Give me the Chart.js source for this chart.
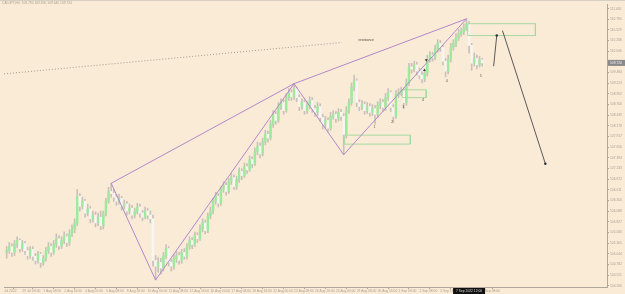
<!DOCTYPE html>
<html>
<head>
<meta charset="utf-8">
<script src="https://cdn.jsdelivr.net/npm/chart.js@4.4.0/dist/chart.umd.min.js"></script>
<style>
  html, body { margin: 0; padding: 0; background: #faebd7; }
  #wrap { width: 625px; height: 294px; position: relative; }
</style>
</head>
<body>
<div id="wrap"><canvas id="chart"></canvas></div>
<script>
// CADJPY H4 candles, bar index on x
const opens = [
  105.08,105.12,105.22,105.08,105.27,105.37,105.17,105.29,105.12,105.00,
  105.15,104.98,104.88,105.03,104.83,104.93,105.12,105.22,105.08,105.27,
  105.41,105.24,105.37,105.46,105.32,105.53,105.65,105.80,106.45,106.21,
  106.33,106.04,106.14,105.90,105.99,105.80,105.94,105.73,106.02,106.33,
  106.57,106.52,106.43,106.33,106.40,106.21,106.26,106.09,106.16,105.99,
  106.07,106.19,106.04,105.94,106.09,105.99,105.90,104.88,104.74,104.83,
  104.69,105.00,105.17,104.83,104.74,104.93,105.00,104.88,105.08,104.98,
  105.22,105.37,105.27,105.49,105.41,105.65,105.80,105.61,105.97,106.09,
  106.33,106.45,106.28,106.62,106.72,106.57,106.81,106.91,106.69,106.86,
  107.06,106.96,107.18,107.10,107.35,107.25,107.54,107.68,107.49,107.78,
  107.97,107.88,108.22,108.46,108.31,108.65,108.75,108.55,108.87,108.99,
  108.89,109.09,108.87,108.65,108.75,108.55,108.68,108.80,108.60,108.51,
  108.65,108.38,108.22,108.31,108.12,108.41,108.46,108.36,108.51,108.41,
  107.97,108.55,108.75,109.13,109.28,108.75,108.65,108.70,108.55,108.65,
  108.51,108.60,108.46,108.68,108.75,108.63,108.87,108.99,108.63,108.41,
  108.94,108.99,109.04,108.75,109.23,109.62,109.57,109.67,109.52,109.42,
  109.33,109.47,109.81,109.91,109.86,110.05,110.20,110.10,109.76,109.52,
  109.81,110.10,110.20,110.34,110.44,110.49,110.58,110.68,110.15,109.71,
  109.83,109.67,109.79
];
const highs = [
  105.22,105.32,105.29,105.37,105.46,105.41,105.37,105.34,105.20,105.22,
  105.22,105.05,105.10,105.08,105.00,105.20,105.32,105.29,105.37,105.53,
  105.49,105.46,105.58,105.53,105.63,105.75,105.90,106.62,106.52,106.43,
  106.38,106.26,106.21,106.09,106.07,106.04,106.09,106.09,106.40,106.67,
  106.77,106.62,106.50,106.50,106.45,106.36,106.33,106.26,106.23,106.16,
  106.28,106.26,106.11,106.19,106.16,106.09,105.99,105.00,104.95,104.93,
  105.08,105.27,105.22,104.91,105.03,105.10,105.08,105.15,105.17,105.29,
  105.46,105.44,105.58,105.56,105.75,105.90,105.87,106.04,106.19,106.40,
  106.55,106.52,106.69,106.81,106.79,106.89,107.01,106.98,106.94,107.15,
  107.13,107.27,107.25,107.44,107.42,107.64,107.78,107.76,107.88,108.07,
  108.05,108.31,108.55,108.53,108.75,108.84,108.82,108.97,109.09,109.06,
  109.21,109.13,108.94,108.84,108.82,108.77,108.89,108.87,108.68,108.75,
  108.72,108.46,108.41,108.38,108.51,108.55,108.53,108.60,108.58,108.48,
  108.65,108.84,109.23,109.42,109.33,108.82,108.80,108.77,108.75,108.72,
  108.70,108.68,108.77,108.84,108.82,108.97,109.09,109.04,108.70,109.04,
  109.09,109.13,109.11,109.33,109.71,109.71,109.76,109.74,109.59,109.50,
  109.57,109.91,110.00,109.98,110.15,110.29,110.27,110.15,109.83,109.91,
  110.20,110.29,110.44,110.54,110.58,110.68,110.80,110.73,110.20,109.96,
  109.91,109.88,109.83
];
const lows = [
  104.93,105.05,104.98,105.00,105.20,105.08,105.10,105.03,104.91,104.93,
  104.88,104.79,104.81,104.71,104.76,104.86,105.05,104.98,105.03,105.20,
  105.15,105.17,105.29,105.22,105.24,105.46,105.56,105.73,106.09,106.14,
  105.94,105.97,105.80,105.82,105.70,105.73,105.63,105.65,105.97,106.28,
  106.43,106.33,106.23,106.26,106.11,106.14,105.99,106.02,105.90,105.92,
  106.02,105.94,105.85,105.90,105.90,105.80,104.74,104.40,104.59,104.54,
  104.62,104.93,104.74,104.62,104.66,104.83,104.79,104.81,104.91,104.91,
  105.15,105.17,105.22,105.32,105.37,105.58,105.53,105.56,105.90,106.02,
  106.26,106.19,106.23,106.55,106.48,106.52,106.74,106.62,106.62,106.79,
  106.86,106.91,107.01,107.06,107.15,107.20,107.47,107.39,107.44,107.71,
  107.78,107.83,108.14,108.22,108.26,108.58,108.46,108.51,108.80,108.80,
  108.82,108.77,108.55,108.58,108.46,108.48,108.60,108.51,108.41,108.43,
  108.29,108.10,108.12,108.02,108.07,108.34,108.26,108.29,108.31,107.47,
  107.88,108.48,108.68,109.04,108.65,108.55,108.58,108.46,108.48,108.41,
  108.43,108.22,108.38,108.60,108.53,108.55,108.80,108.53,108.26,108.36,
  108.87,108.92,108.60,108.68,109.16,109.47,109.50,109.42,109.33,109.23,
  109.26,109.40,109.74,109.76,109.79,109.98,110.00,109.67,109.38,109.45,
  109.74,110.03,110.12,110.27,110.37,110.41,110.51,109.96,109.54,109.64,
  109.57,109.62,109.64
];
const closes = [
  105.12,105.22,105.08,105.27,105.37,105.17,105.29,105.12,105.00,105.15,
  104.98,104.88,105.03,104.83,104.93,105.12,105.22,105.08,105.27,105.41,
  105.24,105.37,105.46,105.32,105.53,105.65,105.80,106.45,106.21,106.33,
  106.04,106.14,105.90,105.99,105.80,105.94,105.73,106.02,106.33,106.57,
  106.52,106.43,106.33,106.40,106.21,106.26,106.09,106.16,105.99,106.07,
  106.19,106.04,105.94,106.09,105.99,105.90,104.88,104.74,104.83,104.69,
  105.00,105.17,104.83,104.74,104.93,105.00,104.88,105.08,104.98,105.22,
  105.37,105.27,105.49,105.41,105.65,105.80,105.61,105.97,106.09,106.33,
  106.45,106.28,106.62,106.72,106.57,106.81,106.91,106.69,106.86,107.06,
  106.96,107.18,107.10,107.35,107.25,107.54,107.68,107.49,107.78,107.97,
  107.88,108.22,108.46,108.31,108.65,108.75,108.55,108.87,108.99,108.89,
  109.09,108.87,108.65,108.75,108.55,108.68,108.80,108.60,108.51,108.65,
  108.38,108.22,108.31,108.12,108.41,108.46,108.36,108.51,108.41,107.97,
  108.55,108.75,109.13,109.28,108.75,108.65,108.70,108.55,108.65,108.51,
  108.60,108.46,108.68,108.75,108.63,108.87,108.99,108.63,108.41,108.94,
  108.99,109.04,108.75,109.23,109.62,109.57,109.67,109.52,109.42,109.33,
  109.47,109.81,109.91,109.86,110.05,110.20,110.10,109.76,109.52,109.81,
  110.10,110.20,110.34,110.44,110.49,110.58,110.68,110.15,109.71,109.83,
  109.67,109.79,109.72
];

// axis labels
const priceTicks = [111.050,110.790,110.529,110.268,110.006,109.745,109.484,109.223,108.962,
  108.700,108.439,108.178,107.917,107.656,107.394,107.133,106.872,106.611,106.350,106.088,
  105.827,105.566,105.305,105.044,104.782,104.521,104.260];
const timeBars = [-1,6,14,22,30,38,46,54,62,70,78,86,94,102,110,118,126,134,142,150,158,166,174,182];
const timeTexts = ['Jul 2022','29 Jul 00:00','1 Aug 08:00','2 Aug 16:00','4 Aug 00:00','5 Aug 08:00',
  '8 Aug 16:00','10 Aug 00:00','11 Aug 08:00','12 Aug 16:00','16 Aug 00:00','17 Aug 08:00',
  '18 Aug 16:00','22 Aug 00:00','23 Aug 08:00','24 Aug 16:00','26 Aug 00:00','29 Aug 08:00',
  '30 Aug 16:00','1 Sep 00:00','2 Sep 08:00','5 Sep 16:00','7 Sep 00:00','8 Sep 08:00'];

// zigzag pivots
const pivotBars = [40, 57, 110, 129, 176];
const pivotPrices = [106.77, 104.40, 109.21, 107.47, 110.80];

// dotted trendline
const trendBars = [-1.03, 128.3];
const trendPrices = [109.45, 110.22];

// boxes: [from, to] bars and [top, bottom] prices
const boxBars = [[176.5, 202.4], [129.4, 154.5], [151.4, 160.6]];
const boxPrices = [[110.68, 110.39], [107.95, 107.73], [109.06, 108.87]];

// projection legs
const projBars = [[186.4, 187.6], [189.8, 206.2]];
const projPrices = [[109.64, 110.39], [110.51, 107.25]];

const waveBars = [140.8, 147.6, 151.8, 159.4, 168.5, 181.5];
const wavePrices = [108.14, 108.26, 108.65, 108.82, 109.28, 109.40];
const waveTags = ['1', '2', '3', '4', '4', '5'];

const arrowBars = [160.6, 159.9];
const arrowPrices = [109.79, 109.54];

const noteBar = 137.6, notePrice = 110.29, noteText = 'resistance';
const symbolText = 'CADJPY,H4  109.790 109.830 109.640 109.720';
const cursorBar = 177, cursorText = '7 Sep 2022 12:00';

const BG = '#faebd7';
const PURPLE = '#b488c9';
const BOXGREEN = '#a6d9a0';
const AXIS = '#b0a79c';
const TXT = '#aaa196';
const FONT = 'Liberation Sans, Arial, sans-serif';

Chart.defaults.font.family = FONT;

const idx = closes.map((c, i) => i);
const pts = (xs, ys) => xs.map((x, i) => ({ x: x, y: ys[i] }));

const datasets = [];

// candles: wick behind, body on top
datasets.push({
    type: 'bar',
    data: idx.map(i => ({ x: i, y: [lows[i], highs[i]] })),
    backgroundColor: '#c9c2b9',
    barThickness: 1,
    grouped: false,
    order: 10
});
datasets.push({
    type: 'bar',
    data: idx.map(i => ({ x: i, y: [opens[i], closes[i]] })),
    backgroundColor: idx.map(i => closes[i] >= opens[i] ? '#9dea9d' : '#f8f6f3'),
    barThickness: 1.8,
    grouped: false,
    order: 9
});

const lineBase = { type: 'line', pointRadius: 0, fill: false, tension: 0, borderWidth: 1 };

// zigzag and upper line through the highs
datasets.push(Object.assign({}, lineBase, {
    data: pts(pivotBars, pivotPrices), borderColor: PURPLE, order: 1
}));
datasets.push(Object.assign({}, lineBase, {
    data: pts(pivotBars.filter((b, i) => i % 2 === 0), pivotPrices.filter((p, i) => i % 2 === 0)),
    borderColor: PURPLE, order: 1
}));

datasets.push(Object.assign({}, lineBase, {
    data: pts(trendBars, trendPrices), borderColor: '#a59a90', borderDash: [1, 2], order: 2
}));

boxBars.forEach((b, k) => {
    const p = boxPrices[k];
    datasets.push(Object.assign({}, lineBase, {
        data: pts([b[0], b[1], b[1], b[0], b[0]], [p[0], p[0], p[1], p[1], p[0]]),
        borderColor: BOXGREEN, order: 3
    }));
});

projBars.forEach((b, k) => {
    datasets.push(Object.assign({}, lineBase, {
        data: pts(b, projPrices[k]), borderColor: '#5a5a5a',
        pointRadius: [0, 1.3], pointBackgroundColor: '#333333', pointBorderWidth: 0, order: 1
    }));
});

datasets.push({
    type: 'scatter',
    data: pts(arrowBars, arrowPrices),
    pointStyle: 'triangle',
    rotation: [180, 0],
    pointRadius: 1.6,
    backgroundColor: '#333333',
    borderWidth: 0,
    order: 0
});

const decor = {
    id: 'decor',
    beforeDraw(chart) {
        const ctx = chart.ctx;
        ctx.save();
        ctx.fillStyle = BG;
        ctx.fillRect(0, 0, chart.width, chart.height);
        ctx.restore();
    },
    afterDatasetsDraw(chart) {
        const ctx = chart.ctx, xs = chart.scales.x, ys = chart.scales.y;
        ctx.save();
        ctx.font = '3.6px ' + FONT;
        ctx.textAlign = 'center';
        ctx.textBaseline = 'middle';
        ctx.fillStyle = '#555555';
        waveTags.forEach((t, i) => {
            ctx.fillText(t, xs.getPixelForValue(waveBars[i]), ys.getPixelForValue(wavePrices[i]));
        });
        ctx.font = '3.4px ' + FONT;
        ctx.fillStyle = '#4a4a4a';
        ctx.fillText(noteText, xs.getPixelForValue(noteBar), ys.getPixelForValue(notePrice));
        ctx.restore();
    },
    afterDraw(chart) {
        const ctx = chart.ctx, xs = chart.scales.x, ys = chart.scales.y, area = chart.chartArea;
        ctx.save();
        // top frame line
        ctx.fillStyle = '#d9d0c4';
        ctx.fillRect(0, 0, chart.width, 1);
        // symbol header
        ctx.font = '3.3px ' + FONT;
        ctx.fillStyle = TXT;
        ctx.textAlign = 'left';
        ctx.textBaseline = 'middle';
        ctx.fillText(symbolText, 2, 3.5);
        // current price box on the price axis
        const py = ys.getPixelForValue(closes[closes.length - 1]);
        ctx.fillStyle = '#8a8a8a';
        ctx.fillRect(area.right + 1, py - 3, chart.width - area.right - 1, 6);
        ctx.fillStyle = '#f2f2f2';
        ctx.fillText(closes[closes.length - 1].toFixed(3), area.right + 3, py);
        // cursor time box on the time axis
        const cx = xs.getPixelForValue(cursorBar);
        ctx.fillStyle = '#111111';
        ctx.fillRect(cx - 16, area.bottom + 1, 32, chart.height - area.bottom - 1);
        ctx.fillStyle = '#dcdcdc';
        ctx.textAlign = 'center';
        ctx.fillText(cursorText, cx, area.bottom + 4);
        ctx.restore();
    }
};

new Chart(document.getElementById('chart'), {
    type: 'bar',
    data: { datasets: datasets },
    options: {
        responsive: true,
        maintainAspectRatio: false,
        animation: false,
        devicePixelRatio: 1,
        layout: { padding: 0 },
        plugins: { legend: { display: false }, tooltip: { enabled: false } },
        scales: {
            x: {
                type: 'linear',
                position: 'bottom',
                min: -1.03,
                max: 229.8,
                offset: false,
                afterBuildTicks: s => { s.ticks = timeBars.map(v => ({ value: v })); },
                afterFit: s => { s.height = 7; s.paddingLeft = 0; s.paddingRight = 0; },
                grid: { display: true, drawOnChartArea: false, tickLength: 2, color: AXIS },
                border: { display: true, color: AXIS },
                ticks: {
                    autoSkip: false,
                    maxRotation: 0,
                    align: 'start',
                    padding: 0,
                    color: TXT,
                    font: { size: 3.3 },
                    callback: v => timeTexts[timeBars.indexOf(v)]
                }
            },
            y: {
                type: 'linear',
                position: 'right',
                min: 104.229,
                max: 111.163,
                afterBuildTicks: s => { s.ticks = priceTicks.map(v => ({ value: v })); },
                afterFit: s => { s.width = 18; s.paddingTop = 0; s.paddingBottom = 0; },
                grid: { display: true, drawOnChartArea: false, tickLength: 2, color: AXIS },
                border: { display: true, color: AXIS },
                ticks: {
                    autoSkip: false,
                    padding: 1,
                    color: TXT,
                    font: { size: 3.3 },
                    callback: v => v.toFixed(3)
                }
            }
        }
    },
    plugins: [decor]
});
</script>
</body>
</html>
